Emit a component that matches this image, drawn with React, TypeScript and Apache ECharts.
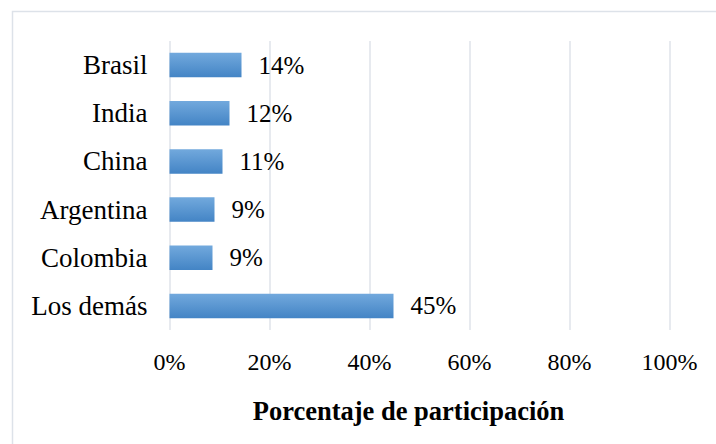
import React, { useEffect, useRef } from "react";
import * as echarts from "echarts";

const categories = ["Brasil", "India", "China", "Argentina", "Colombia", "Los demás"];
const values = [14.4, 12.0, 10.6, 9.0, 8.6, 44.8];
const labels = ["14%", "12%", "11%", "9%", "9%", "45%"];
const xTicks = [0, 20, 40, 60, 80, 100];
const axisTitle = "Porcentaje de participación";

export default function App() {
  const ref = useRef<HTMLDivElement>(null);
  useEffect(() => {
    if (!ref.current) return;
    const chart = echarts.init(ref.current, null, { renderer: "svg" });
    const font = "Liberation Serif";
    const cats = [...categories].reverse();
    const vals = [...values].reverse();
    const labs = [...labels].reverse();
    chart.setOption({
      animation: false,
      backgroundColor: "#ffffff",
      graphic: [
        {
          type: "rect",
          shape: { x: 12.5, y: 11.5, width: 720, height: 450 },
          style: { fill: "none", stroke: "#dde2e9", lineWidth: 1.5 },
          silent: true,
        },
      ],
      grid: { left: 169.5, right: 46.5, top: 41, bottom: 114, containLabel: false },
      xAxis: {
        type: "value",
        min: xTicks[0],
        max: xTicks[xTicks.length - 1],
        interval: 20,
        axisLine: { show: false },
        axisTick: { show: false },
        splitLine: { show: true, lineStyle: { color: "#dfe3ea", width: 1.5 } },
        axisLabel: {
          formatter: (v: number) => v + "%",
          fontFamily: font,
          fontSize: 24,
          color: "#000000",
          margin: 20,
        },
        name: axisTitle,
        nameLocation: "middle",
        nameGap: 67,
        nameTextStyle: {
          fontFamily: font,
          fontSize: 26.5,
          fontWeight: "bold",
          color: "#000000",
          padding: [0, 22, 0, 0],
        },
      },
      yAxis: {
        type: "category",
        data: cats,
        axisLine: { show: false },
        axisTick: { show: false },
        axisLabel: { fontFamily: font, fontSize: 27, color: "#000000", margin: 22 },
      },
      series: [
        {
          type: "bar",
          data: vals,
          barCategoryGap: "49%",
          itemStyle: {
            color: new echarts.graphic.LinearGradient(0, 0, 0, 1, [
              { offset: 0, color: "#72a9dd" },
              { offset: 1, color: "#4384c5" },
            ]),
          },
          label: {
            show: true,
            position: "right",
            distance: 17,
            formatter: (p: any) => labs[p.dataIndex],
            fontFamily: font,
            fontSize: 25,
            color: "#000000",
          },
        },
      ],
    });
    return () => chart.dispose();
  }, []);
  return (
    <div
      ref={ref}
      style={{ position: "fixed", left: 0, top: 0, width: 716, height: 444 }}
    />
  );
}
